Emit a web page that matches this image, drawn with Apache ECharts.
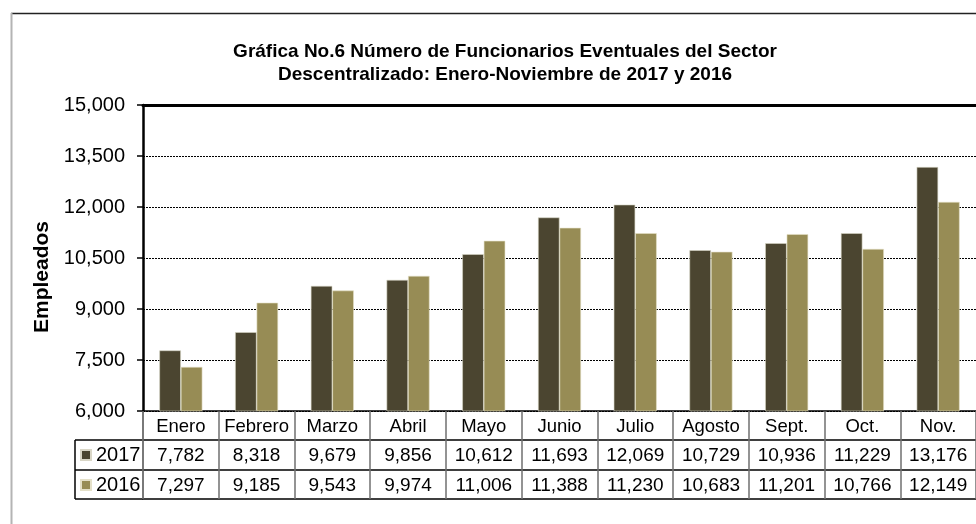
<!DOCTYPE html>
<html>
<head>
<meta charset="utf-8">
<script src="https://cdn.jsdelivr.net/npm/echarts@6/dist/echarts.min.js"></script>
<style>
  html, body { margin: 0; padding: 0; background: #fff; }
  #main { width: 976px; height: 524px; }
</style>
</head>
<body>
<div id="main"></div>
<script>
// datos de la gráfica
const meses = ['Enero', 'Febrero', 'Marzo', 'Abril', 'Mayo', 'Junio', 'Julio', 'Agosto', 'Sept.', 'Oct.', 'Nov.']
const datos2017 = [7782, 8318, 9679, 9856, 10612, 11693, 12069, 10729, 10936, 11229, 13176]
const datos2016 = [7297, 9185, 9543, 9974, 11006, 11388, 11230, 10683, 11201, 10766, 12149]
const serieNombres = ['2017', '2016']
const yMin = 6000
const yMax = 15000
const yPaso = 1500

const fuente = '"Liberation Sans", Arial, sans-serif'
const miles = v => Number(v).toLocaleString('en-US')

const chart = echarts.init(document.getElementById('main'), null, { renderer: 'canvas' })

// eje x por cada fila de la tabla
function filaTabla(offset, valores, tickLen, size) {
  return {
    type: 'category',
    data: meses,
    position: 'bottom',
    offset: offset,
    boundaryGap: true,
    axisLine: { show: true, lineStyle: { color: '#000', width: 1.5 } },
    axisTick: {
      show: tickLen > 0,
      interval: 0,
      length: tickLen,
      lineStyle: { color: '#707070', width: 1.5 }
    },
    axisLabel: {
      show: !!valores,
      interval: 0,
      margin: 6,
      fontFamily: fuente,
      fontSize: size,
      color: '#000',
      formatter: (v, i) => valores ? (valores === meses ? v : miles(valores[i])) : ''
    }
  }
}

const option = {
  backgroundColor: '#fff',
  animation: false,
  title: {
    text: 'Gráfica No.6 Número de Funcionarios Eventuales del Sector\nDescentralizado: Enero-Noviembre de 2017 y 2016',
    left: 500,
    top: 35,
    textAlign: 'center',
    textStyle: {
      fontFamily: fuente,
      fontSize: 19,
      fontWeight: 'bold',
      lineHeight: 23,
      color: '#000'
    }
  },
  legend: {
    data: serieNombres,
    orient: 'vertical',
    left: 80,
    top: 440,
    padding: 0,
    itemWidth: 10,
    itemHeight: 10,
    itemGap: 0,
    icon: 'rect',
    textStyle: { fontFamily: fuente, fontSize: 20, color: '#000', lineHeight: 30 }
  },
  grid: { left: 143, top: 105, right: -13, bottom: 113 },
  xAxis: [
    filaTabla(0, meses, 29, 18.5),
    filaTabla(29, datos2017, 30, 19),
    filaTabla(59, datos2016, 29, 19),
    filaTabla(88, null, 0, 19),
    {
      type: 'category',
      data: meses,
      position: 'top',
      axisLine: { show: true, lineStyle: { color: '#000', width: 3 } },
      axisTick: { show: false },
      axisLabel: { show: false }
    }
  ],
  yAxis: {
    type: 'value',
    min: yMin,
    max: yMax,
    interval: yPaso,
    name: 'Empleados',
    nameLocation: 'middle',
    nameRotate: 90,
    nameGap: 87,
    nameTextStyle: { fontFamily: fuente, fontSize: 21, fontWeight: 'bold', color: '#000', padding: [0, 38, 0, 0] },
    axisLine: { show: true, lineStyle: { color: '#000', width: 2.5 } },
    axisTick: { show: true, length: 6, lineStyle: { color: '#000', width: 1.5 } },
    axisLabel: {
      margin: 18,
      fontFamily: fuente,
      fontSize: 20,
      color: '#000',
      formatter: v => miles(v)
    },
    splitLine: { show: true, lineStyle: { color: '#000', type: [2, 1], width: 1 } }
  },
  series: [
    {
      name: serieNombres[0],
      type: 'bar',
      xAxisIndex: 0,
      data: datos2017,
      barWidth: 21.5,
      barGap: '0%',
      itemStyle: { color: '#4b4530', borderColor: '#d9d6c6', borderWidth: 0.6 }
    },
    {
      name: serieNombres[1],
      type: 'bar',
      xAxisIndex: 0,
      data: datos2016,
      barWidth: 21.5,
      barGap: '0%',
      itemStyle: { color: '#978c55', borderColor: '#e4e0c8', borderWidth: 0.6 }
    }
  ],
  graphic: [
    // marco exterior
    { type: 'line', shape: { x1: 11, y1: 13.5, x2: 980, y2: 13.5 }, style: { stroke: '#222', lineWidth: 1.5 } },
    { type: 'line', shape: { x1: 11.5, y1: 13, x2: 11.5, y2: 530 }, style: { stroke: '#b4b4b4', lineWidth: 2 } },
    // columna de la leyenda en la tabla
    { type: 'line', shape: { x1: 75, y1: 440, x2: 143, y2: 440 }, style: { stroke: '#000', lineWidth: 1.5 } },
    { type: 'line', shape: { x1: 75, y1: 470, x2: 143, y2: 470 }, style: { stroke: '#000', lineWidth: 1.5 } },
    { type: 'line', shape: { x1: 75, y1: 499, x2: 143, y2: 499 }, style: { stroke: '#000', lineWidth: 1.5 } },
    { type: 'line', shape: { x1: 75, y1: 440, x2: 75, y2: 499 }, style: { stroke: '#000', lineWidth: 1.5 } },
    { type: 'line', shape: { x1: 143, y1: 411, x2: 143, y2: 499 }, style: { stroke: '#707070', lineWidth: 1.5 } }
  ]
}

chart.setOption(option)
</script>
</body>
</html>
